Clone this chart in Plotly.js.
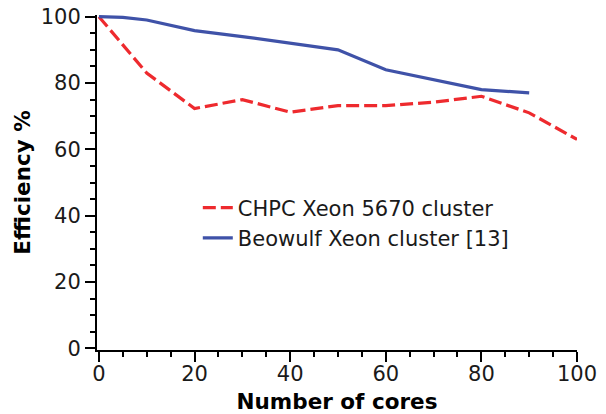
<!DOCTYPE html>
<html>
<head>
<meta charset="utf-8">
<script src="https://cdn.plot.ly/plotly-3.0.1.min.js"></script>
<style>html,body{margin:0;padding:0;background:#fff;}#chart{width:606px;height:414px;}</style>
</head>
<body>
<div id="chart"></div>
<script>
const coresChpc = [0, 10, 20, 30, 40, 50, 60, 70, 80, 90, 100];
const effChpc = [100, 83, 72.3, 75, 71.2, 73.2, 73.2, 74.2, 76, 71, 63];
const coresBeowulf = [0, 5, 10, 20, 30, 40, 50, 60, 70, 80, 90];
const effBeowulf = [100, 99.8, 99, 95.8, 94, 92, 90, 84, 81, 78, 77];
const seriesNames = ["CHPC Xeon 5670 cluster", "Beowulf Xeon cluster [13]"];
const xTitle = "Number of cores";
const yTitle = "Efficiency %";

const FONT = "'DejaVu Sans', sans-serif";

const traces = [
  {x: coresChpc, y: effChpc, name: seriesNames[0], type: 'scatter', mode: 'lines',
   line: {color: '#ee2a2e', width: 3.2, dash: '13px,5px'}},
  {x: coresBeowulf, y: effBeowulf, name: seriesNames[1], type: 'scatter', mode: 'lines',
   line: {color: '#3f52a8', width: 3.2}}
];

const axisCommon = {
  showline: true, linecolor: '#000', linewidth: 2,
  ticks: 'outside', ticklen: 10, tickwidth: 2, tickcolor: '#000',
  showgrid: false, zeroline: false,
  tickfont: {family: FONT, size: 21, color: '#1a1a1a'},
  dtick: 20, tick0: 0,
  minor: {ticks: 'outside', ticklen: 5, tickwidth: 2, tickcolor: '#000', dtick: 5, showgrid: false}
};

const layout = {
  width: 606, height: 414,
  margin: {l: 97, r: 29, t: 15, b: 64},
  paper_bgcolor: '#fff', plot_bgcolor: '#fff',
  showlegend: true,
  legend: {x: 0.21, y: 0.485, xanchor: 'left', yanchor: 'top',
           font: {family: FONT, size: 21, color: '#1a1a1a'}, bgcolor: 'rgba(0,0,0,0)',
           itemwidth: 30, tracegroupgap: 0},
  xaxis: Object.assign({}, axisCommon, {range: [-0.4, 100], autorange: false, ticklabelstandoff: -6,
    title: {text: xTitle, font: {family: FONT, size: 21.5, color: '#000', weight: 'bold'}, standoff: 9}}),
  yaxis: Object.assign({}, axisCommon, {range: [-0.5, 100.5], autorange: false,
    title: {text: yTitle, font: {family: FONT, size: 21.5, color: '#000', weight: 'bold'}, standoff: 4}})
};

Plotly.newPlot('chart', traces, layout, {displayModeBar: false, staticPlot: true});
</script>
</body>
</html>
